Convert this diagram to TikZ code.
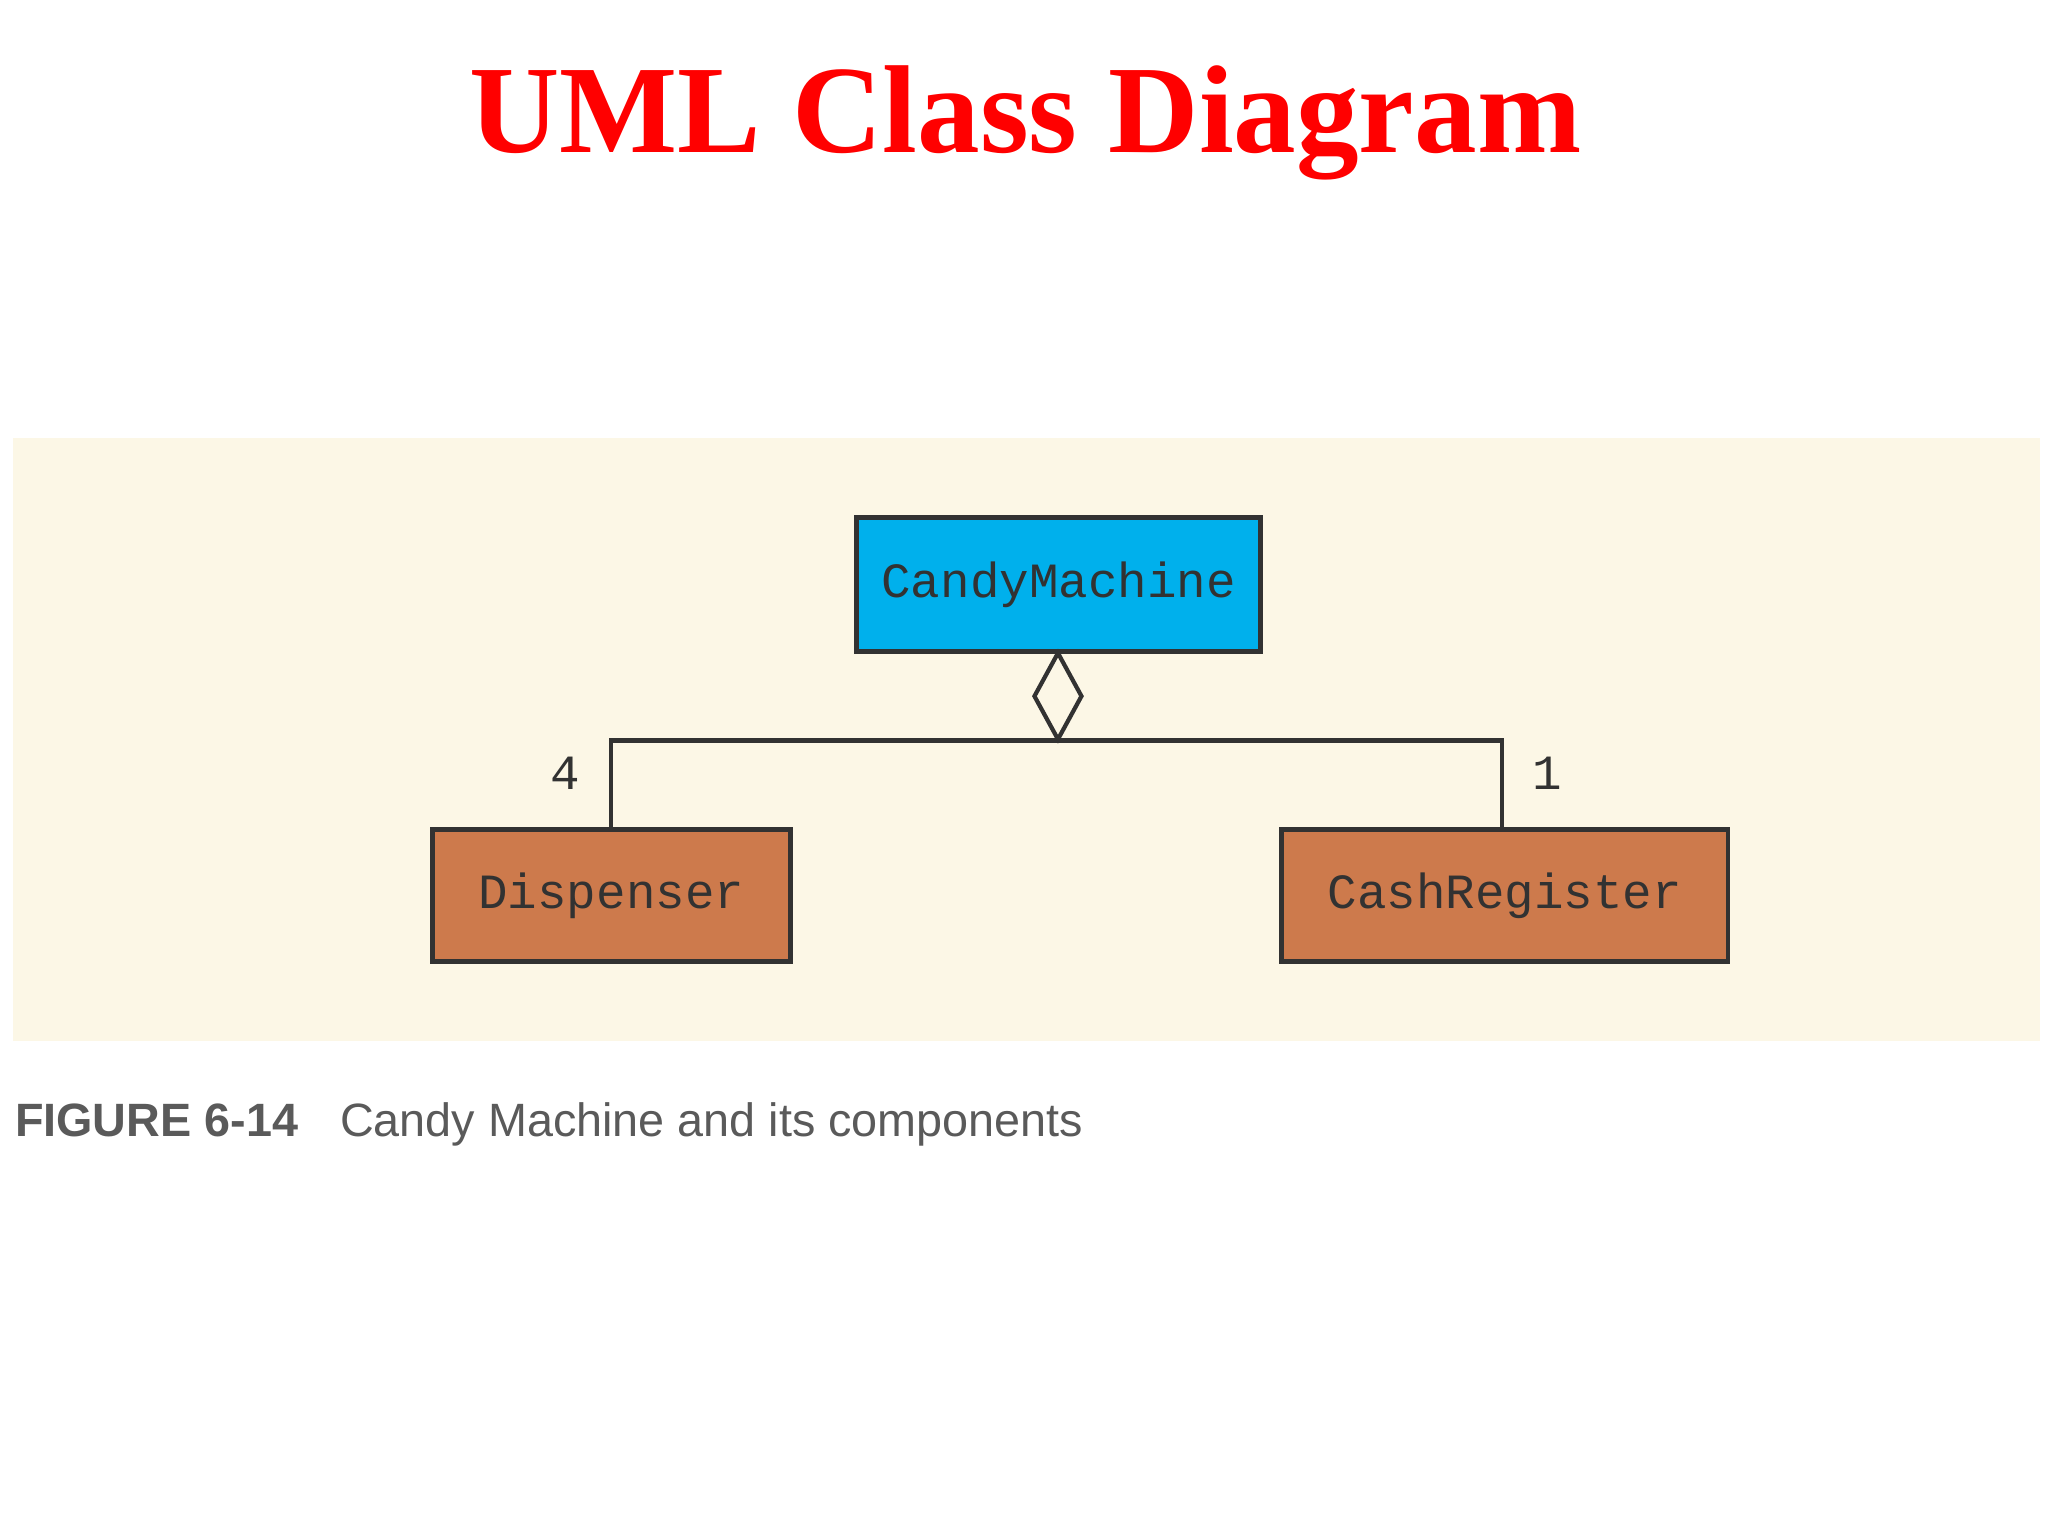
\documentclass[tikz,border=0pt]{standalone}
\usepackage{fontspec}
\setmainfont{Liberation Serif}
\newfontfamily\monof{Liberation Mono}
\newfontfamily\sansf{Liberation Sans}
\usetikzlibrary{shapes.geometric}
\definecolor{cream}{RGB}{252,247,230}
\definecolor{cmblue}{RGB}{0,176,236}
\definecolor{brick}{RGB}{205,122,76}
\definecolor{ink}{RGB}{50,50,50}
\definecolor{cap}{RGB}{90,90,90}
\tikzset{
  cls/.style={draw=ink, line width=1.4pt, font=\monof\fontsize{14}{16}\selectfont, text=ink, inner sep=0pt},
  conn/.style={draw=ink, line width=1.2pt},
  mult/.style={font=\monof\fontsize{14}{16}\selectfont, text=ink}
}
\begin{document}
\begin{tikzpicture}[x=0.01306cm,y=-0.01306cm]
\useasboundingbox (0,0) rectangle (1568,1176);
\fill[white] (0,0) rectangle (1568,1176);
\node (title) at (785,94) {\fontsize{35.6}{40}\selectfont\bfseries\color{red}UML Class Diagram};
\fill[cream] (10,335) rectangle (1562,797);
\node[cls, fill=cmblue, minimum width=309*0.01306cm, minimum height=103*0.01306cm] (cm) at (810.5,447.5) {CandyMachine};
\node[cls, fill=brick, minimum width=274*0.01306cm, minimum height=101*0.01306cm] (disp) at (468,685.5) {Dispenser};
\node[cls, fill=brick, minimum width=342*0.01306cm, minimum height=101*0.01306cm] (cash) at (1152,685.5) {CashRegister};
\coordinate (dtop) at (810,500);
\coordinate (dbot) at (810,566);
\draw[conn, fill=cream] (dtop) -- (828,533) -- (dbot) -- (792,533) -- cycle;
\draw[conn] (disp.north -| 468,0) -- (468,567) -- (1150,567) -- (cash.north -| 1150,0);
\node[mult] (m4) at (433,592) {4};
\node[mult] (m1) at (1185,592) {1};
\node[anchor=west, font=\sansf\fontsize{13.3}{16}\selectfont, text=cap] (capt) at (2,861) {\textbf{FIGURE 6-14}\hspace{0.9em}Candy Machine and its components};
\end{tikzpicture}
\end{document}
